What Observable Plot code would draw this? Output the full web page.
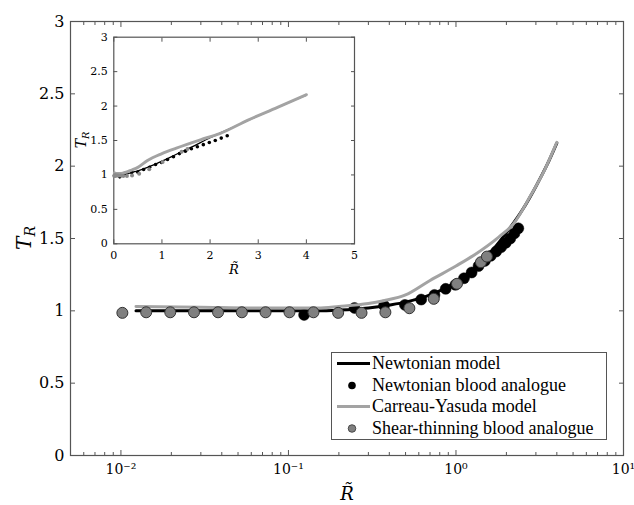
<!DOCTYPE html>
<html><head><meta charset="utf-8">
<script src="https://cdn.jsdelivr.net/npm/d3@7"></script>
<script src="https://cdn.jsdelivr.net/npm/@observablehq/plot@0.6"></script>
<style>
body{margin:0;background:#fff;}
#wrap{position:relative;width:634px;height:505px;font-family:"DejaVu Serif",serif;color:#000;overflow:hidden;}
.lab{position:absolute;transform:translate(-50%,-50%);white-space:nowrap;font-family:"DejaVu Serif",serif;}
.lab sub{font-size:0.7em;vertical-align:-0.3em;line-height:0;}
.rot{transform:translate(-50%,-50%) rotate(-90deg);}
#legend{position:absolute;left:331px;top:352px;width:276px;height:88px;box-sizing:border-box;border:1px solid #555;background:#fff;font-family:"Liberation Serif",serif;font-size:18px;padding-top:0px;}
#legend .row{height:21.5px;display:flex;align-items:center;white-space:nowrap;font-family:"Liberation Serif",serif;}
#legend .sw{width:40px;height:21px;flex:none;display:block;}
</style></head><body><div id="wrap"></div>
<script>
// ---- data ----
const newtModelR = [0.0123, 0.03, 0.06, 0.1, 0.15, 0.2, 0.3, 0.4, 0.5, 0.7, 1.0, 1.3, 1.6, 2.0, 2.5, 3.0, 3.5, 4.0];
const newtModelT = [1.0, 1.0, 1.0, 1.0, 1.0, 1.005, 1.02, 1.04, 1.06, 1.11, 1.2, 1.3, 1.4, 1.54, 1.7, 1.86, 2.01, 2.16];
const cyModelR = [0.0123, 0.03, 0.06, 0.1, 0.15, 0.2, 0.3, 0.37, 0.5, 0.7, 1.0, 1.3, 1.8, 2.2, 2.8, 3.4, 4.0];
const cyModelT = [1.03, 1.025, 1.02, 1.02, 1.02, 1.03, 1.05, 1.07, 1.11, 1.21, 1.31, 1.39, 1.51, 1.6, 1.8, 1.98, 2.165];
const newtDataR = [0.124, 0.248, 0.372, 0.496, 0.62, 0.744, 0.868, 0.992, 1.116, 1.24, 1.364, 1.488, 1.612, 1.736, 1.86, 1.984, 2.108, 2.232, 2.356];
const newtDataT = [0.972, 1.02, 1.037, 1.041, 1.078, 1.11, 1.152, 1.18, 1.225, 1.265, 1.31, 1.345, 1.38, 1.41, 1.44, 1.47, 1.5, 1.535, 1.57];
const shearDataR = [0.0102, 0.01415, 0.0197, 0.0273, 0.038, 0.0527, 0.073, 0.1014, 0.141, 0.198, 0.273, 0.379, 0.527, 0.737, 1.014, 1.409, 1.53];
const shearDataT = [0.986, 0.99, 0.99, 0.99, 0.99, 0.99, 0.99, 0.99, 0.99, 0.986, 0.986, 0.99, 1.018, 1.083, 1.187, 1.336, 1.375];
const xMajorTicks = [0.01, 0.1, 1, 10];
const xTickLabels = ["10⁻²", "10⁻¹", "10⁰", "10¹"];
const xMinorTicks = [0.005,0.006,0.007,0.008,0.009,0.02,0.03,0.04,0.05,0.06,0.07,0.08,0.09,0.2,0.3,0.4,0.5,0.6,0.7,0.8,0.9,2,3,4,5,6,7,8,9];
const yTicks = [0, 0.5, 1, 1.5, 2, 2.5, 3];
const insetXTicks = [0, 1, 2, 3, 4, 5];
const insetYTicks = [0, 0.5, 1, 1.5, 2, 2.5, 3];
const legendLabels = ["Newtonian model", "Newtonian blood analogue", "Carreau-Yasuda model", "Shear-thinning blood analogue"];

const newtModel = newtModelR.map((r, i) => ({R: r, T: newtModelT[i]}));
const cyModel = cyModelR.map((r, i) => ({R: r, T: cyModelT[i]}));
const newtData = newtDataR.map((r, i) => ({R: r, T: newtDataT[i]}));
const shearData = shearDataR.map((r, i) => ({R: r, T: shearDataT[i]}));

const AX = "#555";
const none = () => null;
const fmtNum = d => String(d);

const main = Plot.plot({
  width: 634, height: 505,
  marginLeft: 70, marginRight: 11, marginTop: 21, marginBottom: 50,
  x: {type: "log", domain: [0.005, 10], label: null},
  y: {domain: [0, 3], label: null},
  style: {fontFamily: "DejaVu Serif, serif", fontSize: "16px", color: "#000", background: "transparent", overflow: "visible"},
  marks: [
    Plot.frame({stroke: AX, strokeWidth: 1.2}),
    Plot.axisX(xMajorTicks, {anchor: "bottom", tickSize: 5, dy: -5, tickFormat: none, stroke: AX, label: null}),
    Plot.axisX(xMinorTicks, {anchor: "bottom", tickSize: 3, dy: -3, tickFormat: none, stroke: AX, label: null}),
    Plot.axisX(xMajorTicks, {anchor: "top", tickSize: 5, dy: 5, tickFormat: none, stroke: AX, label: null}),
    Plot.axisX(xMinorTicks, {anchor: "top", tickSize: 3, dy: 3, tickFormat: none, stroke: AX, label: null}),
    Plot.axisX(xMajorTicks, {anchor: "bottom", tickSize: 0, tickPadding: 9, fontSize: 14, tickFormat: d => xTickLabels[xMajorTicks.indexOf(d)], label: null}),
    Plot.axisY(yTicks, {anchor: "left", tickSize: 5, dx: 5, tickFormat: none, stroke: AX, label: null}),
    Plot.axisY(yTicks, {anchor: "right", tickSize: 5, dx: -5, tickFormat: none, stroke: AX, label: null}),
    Plot.axisY(yTicks, {anchor: "left", tickSize: 0, tickPadding: 6, tickFormat: fmtNum, label: null}),
    Plot.line(newtModel, {x: "R", y: "T", stroke: "black", strokeWidth: 3, curve: "monotone-x"}),
    Plot.dot(newtData, {x: "R", y: "T", r: 5.5, fill: "black", stroke: "black", strokeWidth: 0.5}),
    Plot.line(cyModel, {x: "R", y: "T", stroke: "#a3a3a3", strokeWidth: 3, curve: "monotone-x"}),
    Plot.dot(shearData, {x: "R", y: "T", r: 5.5, fill: "#808080", stroke: "#333", strokeWidth: 1})
  ]
});
main.style.position = "absolute"; main.style.left = "0px"; main.style.top = "0px";

const inset = Plot.plot({
  width: 290, height: 270,
  marginLeft: 43.3, marginRight: 6, marginTop: 16.7, marginBottom: 46.7,
  x: {domain: [0, 5], label: null},
  y: {domain: [0, 3], label: null},
  style: {fontFamily: "DejaVu Serif, serif", fontSize: "11px", color: "#000", background: "transparent", overflow: "visible"},
  marks: [
    Plot.frame({stroke: AX, strokeWidth: 1.2, fill: "white"}),
    Plot.axisX(insetXTicks, {anchor: "bottom", tickSize: 4, dy: -4, tickFormat: none, stroke: AX, label: null}),
    Plot.axisX(insetXTicks, {anchor: "top", tickSize: 4, dy: 4, tickFormat: none, stroke: AX, label: null}),
    Plot.axisX(insetXTicks, {anchor: "bottom", tickSize: 0, tickPadding: 7, tickFormat: fmtNum, label: null}),
    Plot.axisY(insetYTicks, {anchor: "left", tickSize: 4, dx: 4, tickFormat: none, stroke: AX, label: null}),
    Plot.axisY(insetYTicks, {anchor: "right", tickSize: 4, dx: -4, tickFormat: none, stroke: AX, label: null}),
    Plot.axisY(insetYTicks, {anchor: "left", tickSize: 0, tickPadding: 6, tickFormat: fmtNum, label: null}),
    Plot.line(newtModel, {x: "R", y: "T", stroke: "black", strokeWidth: 1.3, curve: "monotone-x"}),
    Plot.dot(newtData, {x: "R", y: "T", r: 1.8, fill: "black"}),
    Plot.line(cyModel, {x: "R", y: "T", stroke: "#a3a3a3", strokeWidth: 3, curve: "monotone-x"}),
    Plot.dot(shearData, {x: "R", y: "T", r: 2, fill: "#8a8a8a"})
  ]
});
inset.style.position = "absolute"; inset.style.left = "70px"; inset.style.top = "20px";

const wrap = document.getElementById("wrap");
wrap.appendChild(main);
wrap.appendChild(inset);

function addLabel(html, x, y, size, rot) {
  const d = document.createElement("div");
  d.className = "lab" + (rot ? " rot" : "");
  d.style.left = x + "px"; d.style.top = y + "px"; d.style.fontSize = size + "px";
  d.innerHTML = html;
  wrap.appendChild(d);
}
addLabel("<i>R̃</i>", 347, 493, 18, false);
addLabel("<i>T</i><sub><i>R</i></sub>", 24, 238, 20, true);
addLabel("<i>R̃</i>", 234, 269, 13, false);
addLabel("<i>T</i><sub><i>R</i></sub>", 81, 140, 14, true);

// legend
const legend = document.createElement("div");
legend.id = "legend";
const swatches = [
  '<svg class="sw" viewBox="0 0 40 21"><line x1="5" x2="38" y1="10.5" y2="10.5" stroke="black" stroke-width="3"/></svg>',
  '<svg class="sw" viewBox="0 0 40 21"><circle cx="20" cy="10.5" r="3.8" fill="black"/></svg>',
  '<svg class="sw" viewBox="0 0 40 21"><line x1="5" x2="38" y1="10.5" y2="10.5" stroke="#a3a3a3" stroke-width="3"/></svg>',
  '<svg class="sw" viewBox="0 0 40 21"><circle cx="20" cy="10.5" r="3.8" fill="#808080" stroke="#333" stroke-width="0.8"/></svg>'
];
legendLabels.forEach((t, i) => {
  const row = document.createElement("div");
  row.className = "row";
  row.innerHTML = swatches[i] + '<span>' + t + '</span>';
  legend.appendChild(row);
});
wrap.appendChild(legend);
</script></body></html>
